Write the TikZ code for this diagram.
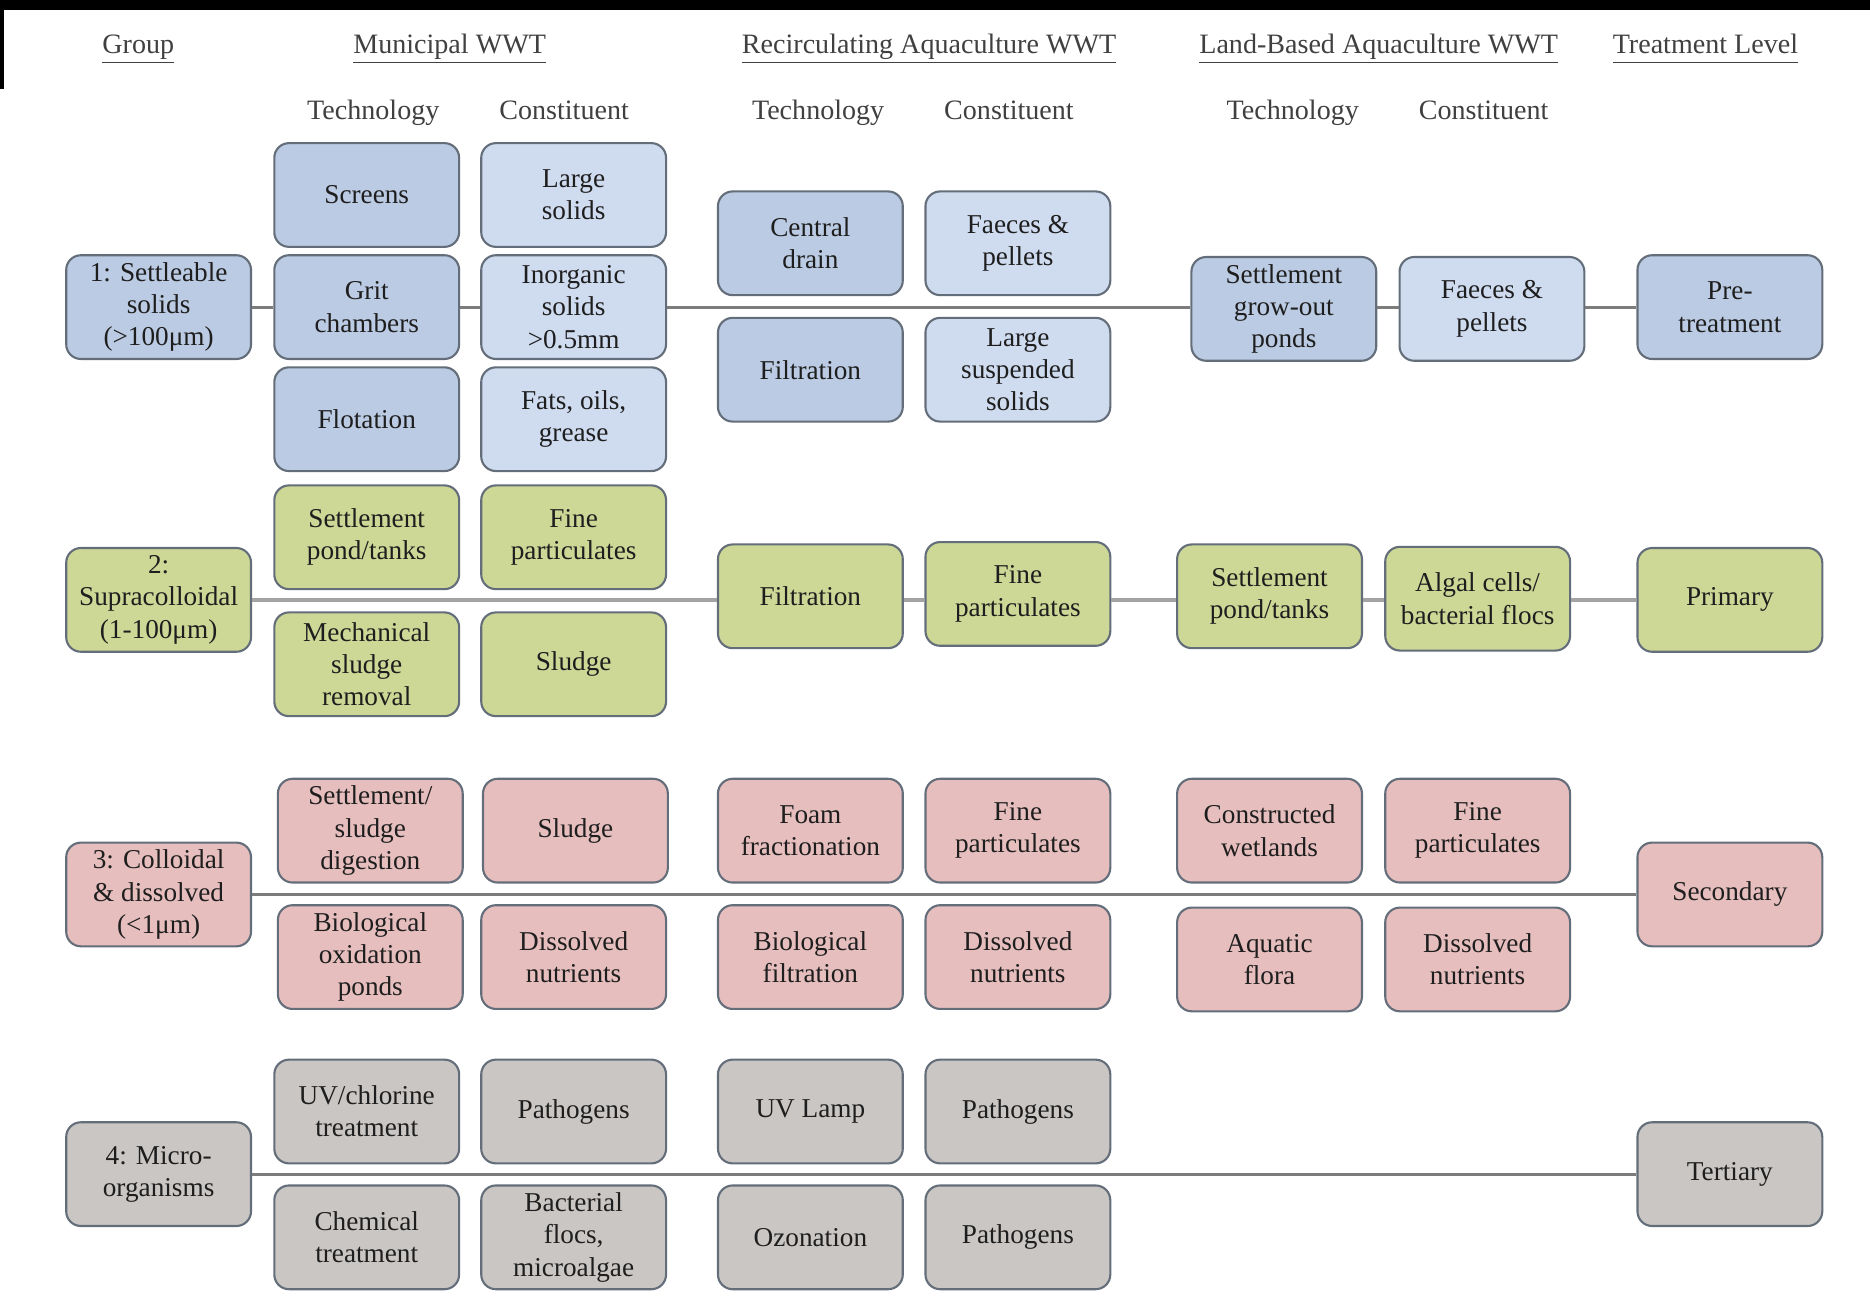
\documentclass[tikz,border=0pt]{standalone}
\usepackage{fontspec}
\setmainfont{Liberation Serif}
\definecolor{bluedark}{HTML}{BBCBE3}
\definecolor{bluelight}{HTML}{CFDBEF}
\definecolor{greenf}{HTML}{CDD897}
\definecolor{pinkf}{HTML}{E7BEBE}
\definecolor{grayf}{HTML}{C9C6C4}
\definecolor{bordc}{HTML}{646D7A}
\definecolor{linec}{HTML}{7C7C7C}
\definecolor{txtc}{HTML}{1E1E1E}
\newcommand{\hul}[1]{\underline{\vphantom{Agy}#1}}
\begin{document}
\begin{tikzpicture}[x=0.02cm,y=-0.02cm,
  box/.style={draw=bordc, line width=1pt, rounded corners=7pt, minimum width=3.1cm, minimum height=1.74cm,
    inner sep=1pt, align=center, text=txtc, font=\fontsize{13}{15.4}\selectfont},
  bd/.style={box, fill=bluedark},
  bl/.style={box, fill=bluelight},
  gr/.style={box, fill=greenf},
  pk/.style={box, fill=pinkf},
  gy/.style={box, fill=grayf},
  hdr/.style={text=txtc!85, font=\fontsize{13.4}{16}\selectfont, inner sep=0pt, anchor=base},
  conn/.style={draw=linec, line width=1.4pt}]
\useasboundingbox (0,0) rectangle (1568,1099);
\fill[white] (0,0) rectangle (1568,1099);
\fill[black] (0,0) rectangle (1568,8);
\fill[black] (0,0) rectangle (3,75);

% headers
\node[hdr] (hgroup) at (116,45) {\hul{Group}};
\node[hdr] (hmun) at (377,45) {\hul{Municipal WWT}};
\node[hdr] (hrec) at (779,45) {\hul{Recirculating Aquaculture WWT}};
\node[hdr] (hland) at (1156,45) {\hul{Land-Based Aquaculture WWT}};
\node[hdr] (hlev) at (1430,45) {\hul{Treatment Level}};
\node[hdr] (t1) at (313,100) {Technology};
\node[hdr] (c1) at (473,100) {Constituent};
\node[hdr] (t2) at (686,100) {Technology};
\node[hdr] (c2) at (846,100) {Constituent};
\node[hdr] (t3) at (1084,100) {Technology};
\node[hdr] (c3) at (1244,100) {Constituent};

% row 1
\node[bd] (g1) at (133,257.5) {1: Settleable\\solids\\(>100μm)};
\node[bd] (scr) at (307.5,163.5) {Screens};
\node[bd] (grit) at (307.5,257.5) {Grit\\chambers};
\node[bd] (flot) at (307.5,351.5) {Flotation};
\node[bl] (lsol) at (481,163.5) {Large\\solids};
\node[bl] (inorg) at (481,257.5) {Inorganic\\solids\\>0.5mm};
\node[bl] (fats) at (481,351.5) {Fats, oils,\\grease};
\node[bd] (cdrain) at (679.5,204) {Central\\drain};
\node[bd] (filt1) at (679.5,310) {Filtration};
\node[bl] (fp1) at (853.5,204) {Faeces \&\\pellets};
\node[bl] (lss) at (853.5,310) {Large\\suspended\\solids};
\node[bd] (sgo) at (1076.5,259) {Settlement\\grow-out\\ponds};
\node[bl] (fp2) at (1251,259) {Faeces \&\\pellets};
\node[bd] (pre) at (1450.5,257.5) {Pre-\\treatment};
\draw[conn] (g1) -- (grit);
\draw[conn] (grit) -- (inorg);
\draw[conn] (inorg.east) -- (sgo.west |- inorg.east);
\draw[conn] (sgo.east |- inorg.east) -- (fp2.west |- inorg.east);
\draw[conn] (fp2.east |- inorg.east) -- (pre);

% row 2
\node[gr] (g2) at (133,503) {2:\\Supracolloidal\\(1-100μm)};
\node[gr] (spt1) at (307.5,450.5) {Settlement\\pond/tanks};
\node[gr] (fpart1) at (481,450.5) {Fine\\particulates};
\node[gr] (msr) at (307.5,557) {Mechanical\\sludge\\removal};
\node[gr] (sl1) at (481,557) {Sludge};
\node[gr] (filt2) at (679.5,500) {Filtration};
\node[gr] (fpart2) at (853.5,498) {Fine\\particulates};
\node[gr] (spt2) at (1064.5,500) {Settlement\\pond/tanks};
\node[gr] (alg) at (1239,502) {Algal cells/\\bacterial flocs};
\node[gr] (prim) at (1450.5,503) {Primary};
\draw[conn, draw=linec!70, line width=2pt] (g2.east) -- (filt2.west |- g2.east);
\draw[conn, draw=linec!70, line width=2pt] (filt2.east |- g2.east) -- (fpart2.west |- g2.east);
\draw[conn, draw=linec!70, line width=2pt] (fpart2.east |- g2.east) -- (spt2.west |- g2.east);
\draw[conn, draw=linec!70, line width=2pt] (spt2.east |- g2.east) -- (alg.west |- g2.east);
\draw[conn, draw=linec!70, line width=2pt] (alg.east |- g2.east) -- (prim.west |- g2.east);

% row 3
\node[pk] (g3) at (133,750) {3: Colloidal\\\& dissolved\\(<1μm)};
\node[pk] (ssd) at (310.5,696.5) {Settlement/\\sludge\\digestion};
\node[pk] (sl2) at (482.5,696.5) {Sludge};
\node[pk] (bop) at (310.5,802.5) {Biological\\oxidation\\ponds};
\node[pk] (dn1) at (481,802.5) {Dissolved\\nutrients};
\node[pk] (foam) at (679.5,696.5) {Foam\\fractionation};
\node[pk] (fpart3) at (853.5,696.5) {Fine\\particulates};
\node[pk] (bfilt) at (679.5,802.5) {Biological\\filtration};
\node[pk] (dn2) at (853.5,802.5) {Dissolved\\nutrients};
\node[pk] (cw) at (1064.5,696.5) {Constructed\\wetlands};
\node[pk] (fpart4) at (1239,696.5) {Fine\\particulates};
\node[pk] (aqf) at (1064.5,804.5) {Aquatic\\flora};
\node[pk] (dn3) at (1239,804.5) {Dissolved\\nutrients};
\node[pk] (sec) at (1450.5,750) {Secondary};
\draw[conn] (g3) -- (sec);

% row 4
\node[gy] (g4) at (133,984.5) {4: Micro-\\organisms};
\node[gy] (uvc) at (307.5,932) {UV/chlorine\\treatment};
\node[gy] (path1) at (481,932) {Pathogens};
\node[gy] (chem) at (307.5,1037.5) {Chemical\\treatment};
\node[gy] (bfm) at (481,1037.5) {Bacterial\\flocs,\\microalgae};
\node[gy] (uvl) at (679.5,932) {UV Lamp};
\node[gy] (path2) at (853.5,932) {Pathogens};
\node[gy] (ozo) at (679.5,1037.5) {Ozonation};
\node[gy] (path3) at (853.5,1037.5) {Pathogens};
\node[gy] (ter) at (1450.5,984.5) {Tertiary};
\draw[conn] (g4) -- (ter);
\end{tikzpicture}
\end{document}
